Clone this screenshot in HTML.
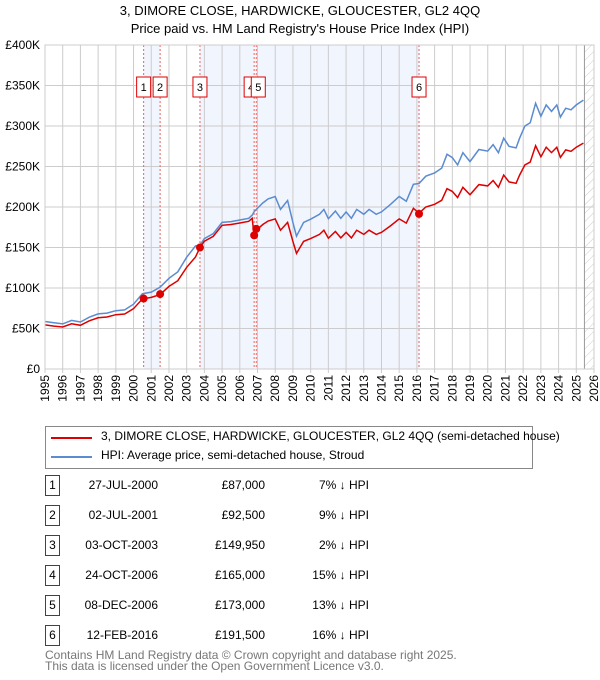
<!DOCTYPE html>
<html><head><meta charset="utf-8"><style>
body{margin:0;background:#fff;font-family:"Liberation Sans","DejaVu Sans",sans-serif;}
#wrap{position:relative;width:600px;height:680px;overflow:hidden;}
.t{position:absolute;font-size:12px;color:#000;white-space:nowrap;}
.box{position:absolute;border:1px solid #d00;width:13px;height:19px;text-align:center;line-height:19px;font-size:12px;}
</style></head><body><div id="wrap">
<svg id="chart" width="600" height="420" style="position:absolute;left:0;top:0"></svg>
<div style="position:absolute;left:45px;top:426px;width:486px;height:41px;border:1px solid #888;">
<div style="position:absolute;left:5px;top:10px;width:41px;height:2px;background:#d00"></div>
<div class="t" style="left:55px;top:2px">3, DIMORE CLOSE, HARDWICKE, GLOUCESTER, GL2 4QQ (semi-detached house)</div>
<div style="position:absolute;left:5px;top:29px;width:41px;height:2px;background:#5b8bd0"></div>
<div class="t" style="left:55px;top:21px">HPI: Average price, semi-detached house, Stroud</div>
</div>
<div id="table"></div>
<div class="t" style="left:45px;top:650px;color:#777;line-height:11px">Contains HM Land Registry data © Crown copyright and database right 2025.<br>This data is licensed under the Open Government Licence v3.0.</div>
</div>
<script>
const years=[1995,1995.5,1996,1996.5,1997,1997.5,1998,1998.5,1999,1999.5,2000,2000.5,2001,2001.5,2002,2002.5,2003,2003.5,2003.75,2004,2004.5,2005,2005.5,2006,2006.5,2006.7,2006.8,2006.93,2007.3,2007.6,2008,2008.3,2008.7,2009,2009.2,2009.6,2010,2010.5,2010.75,2011,2011.4,2011.7,2012,2012.3,2012.6,2013,2013.3,2013.7,2014,2014.5,2015,2015.4,2015.8,2016.12,2016.5,2017,2017.4,2017.7,2018,2018.3,2018.6,2019,2019.5,2020,2020.3,2020.6,2020.9,2021.2,2021.6,2021.8,2022.1,2022.4,2022.7,2023,2023.3,2023.6,2023.9,2024.1,2024.4,2024.7,2025,2025.4];
const hpiValues=[58.6,57,55.7,60,58,64,68,69,72,73,80,93,95,101,112,120,138,152,153,161,167,181,182,184,186,190,194,197,205,210,213,197,208,181,164,181,185,191,197,185.6,195,186,194,186,197,191,197,191,194,203,213,207,228,229,238,242,248,265,261,252,267,256,271,269,277,267,285,275,273,285,300,304,328,312,326,318,326,311,322,320,326,332];
const propertyValues=[54.5,53,51.8,55.8,54,59.5,63.2,64.2,67,67.9,74.4,86.5,88.4,91.9,102,109,125.6,138.3,150,157.8,163.7,177.4,178.4,180.3,182.3,186,165,171.4,178.4,182.7,185.3,171.4,181,157.5,142.7,157.5,161,166.2,171.4,161.5,169.7,161.8,168.8,161.8,171.4,166.2,171.4,166.2,168.8,176.6,185.3,180.1,198.4,192.4,200,203.3,208.3,222.6,219.2,211.7,224.3,215,227.6,226,232.7,224.3,239.4,231,229.3,239.4,252,255.4,275.5,262,273.8,267.1,273.8,261.2,270.5,268.8,273.8,278.9];
const saleYears=[2000.57,2001.5,2003.75,2006.81,2006.93,2016.12];
const salePrices=[87,92.5,149.95,165,173,191.5];
const saleLabels=["1","2","3","4","5","6"];
const saleDates=["27-JUL-2000","02-JUL-2001","03-OCT-2003","24-OCT-2006","08-DEC-2006","12-FEB-2016"];
const salePriceText=["£87,000","£92,500","£149,950","£165,000","£173,000","£191,500"];
const saleHpiText=["7% ↓ HPI","9% ↓ HPI","2% ↓ HPI","15% ↓ HPI","13% ↓ HPI","16% ↓ HPI"];
const yTicks=[0,50,100,150,200,250,300,350,400];
const yTickLabels=["£0","£50K","£100K","£150K","£200K","£250K","£300K","£350K","£400K"];
const xTicks=[];for(let y=1995;y<=2026;y++)xTicks.push(y);

const X0=45,X1=594,Y0=369,Y1=45;
const xs=v=>X0+(v-1995)/31*(X1-X0);
const ys=v=>Y0-v/400*(Y0-Y1);
const NS="http://www.w3.org/2000/svg";
const svg=document.getElementById('chart');
function mk(t,a,p){const e=document.createElementNS(NS,t);for(const k in a)e.setAttribute(k,a[k]);(p||svg).appendChild(e);return e;}

let t1=mk('text',{x:300,y:15,'text-anchor':'middle','font-size':13,'font-family':'Liberation Sans, sans-serif'});t1.textContent='3, DIMORE CLOSE, HARDWICKE, GLOUCESTER, GL2 4QQ';


let t2=mk('text',{x:300,y:33,'text-anchor':'middle','font-size':13,'font-family':'Liberation Sans, sans-serif'});t2.textContent="Price paid vs. HM Land Registry's House Price Index (HPI)";



const shades=[[0,1],[2,3],[4,5]];
shades.forEach(s=>{const r=mk('rect',{x:xs(saleYears[s[0]]),y:Y1,width:xs(saleYears[s[1]])-xs(saleYears[s[0]]),height:Y0-Y1,fill:'#eef3fc',opacity:0.8});

});
const defs=mk('defs',{});const pat=mk('pattern',{id:'h',width:6,height:6,patternUnits:'userSpaceOnUse',patternTransform:'rotate(45)'},defs);mk('line',{x1:0,y1:0,x2:0,y2:6,stroke:'#ccc','stroke-width':1},pat);
const hr=mk('rect',{x:xs(2025.46),y:Y1,width:X1-xs(2025.46),height:Y0-Y1,fill:'url(#h)'});


xTicks.forEach((v,i)=>{const l=mk('line',{x1:xs(v),x2:xs(v),y1:Y1,y2:Y0+4,stroke:'#ccc'});


const tx=mk('text',{x:0,y:0,transform:`translate(${xs(v)+4},${Y0+6}) rotate(-90)`,'text-anchor':'end','font-size':12,'font-family':'Liberation Sans, sans-serif'});tx.textContent=v;

});
yTicks.forEach((v,i)=>{const l=mk('line',{x1:X0,x2:X1,y1:ys(v),y2:ys(v),stroke:'#ccc'});


const tx=mk('text',{x:40,y:ys(v)+4,'text-anchor':'end','font-size':12,'font-family':'Liberation Sans, sans-serif'});tx.textContent=yTickLabels[i];

});
mk('line',{x1:xs(2025.46),x2:xs(2025.46),y1:Y1,y2:Y0,stroke:'#999'});
saleYears.forEach((v,i)=>{const l=mk('line',{x1:xs(v),x2:xs(v),y1:Y1,y2:Y0,stroke:'#f06060','stroke-dasharray':'2,2'});


const off=(i==3)?-3:(i==4?2:0);
const r=mk('rect',{x:xs(v)-7+off,y:77,width:14,height:20,fill:'#fff',stroke:'#d00'});


const tx=mk('text',{x:xs(v)+off,y:91,'text-anchor':'middle','font-size':11,'font-family':'Liberation Sans, sans-serif'});tx.textContent=saleLabels[i];

});
function path(vals){return vals.map((v,i)=>(i?'L':'M')+xs(years[i]).toFixed(1)+','+ys(v).toFixed(1)).join('');}
const hp=mk('path',{d:path(hpiValues),fill:'none',stroke:'#5b8bd0','stroke-width':1.5});


const pp=mk('path',{d:path(propertyValues),fill:'none',stroke:'#d00','stroke-width':1.5});


saleYears.forEach((v,i)=>{const c=mk('circle',{cx:xs(v),cy:ys(salePrices[i]),r:4,fill:'#d00'});

});
mk('rect',{x:X0,y:Y1,width:X1-X0,height:Y0-Y1,fill:'none',stroke:'#ccc'});

const tb=document.getElementById('table');
saleDates.forEach((d,i)=>{const y=475+i*30;
const row=document.createElement('div');


row.innerHTML=`<div class="box" style="left:45px;top:${y}px">${saleLabels[i]}</div>
<div class="t" style="left:60px;width:98px;text-align:right;top:${y+3}px">${d}</div>
<div class="t" style="left:170px;width:95px;text-align:right;top:${y+3}px">${salePriceText[i]}</div>
<div class="t" style="left:280px;width:89px;text-align:right;top:${y+3}px">${saleHpiText[i]}</div>`;
tb.appendChild(row);});
</script></body></html>
